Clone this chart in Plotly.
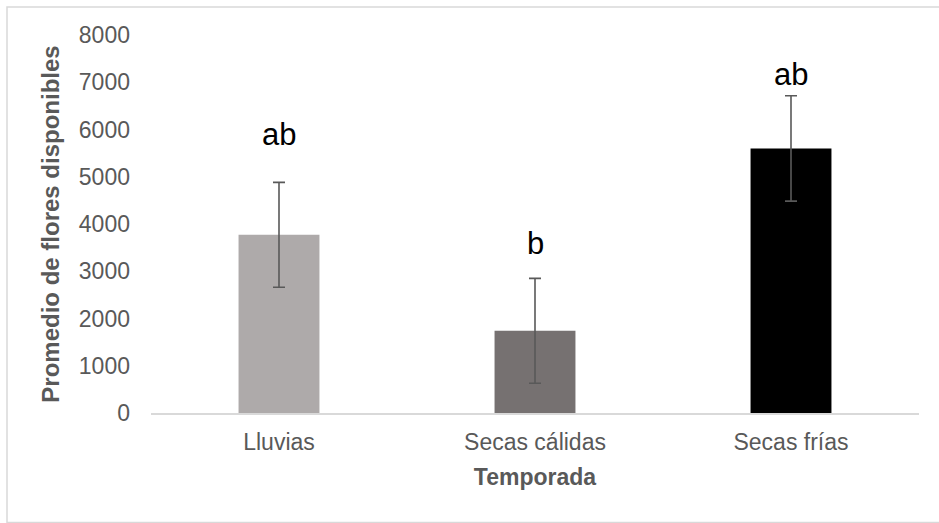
import plotly.graph_objects as go

categories = ["Lluvias", "Secas cálidas", "Secas frías"]
means = [3770, 1740, 5600]
errors = [1110, 1110, 1115]
letters = ["ab", "b", "ab"]
letter_y = [5890, 3580, 7160]
bar_colors = ["#AEAAAA", "#767171", "#000000"]
y_ticks = [0, 1000, 2000, 3000, 4000, 5000, 6000, 7000, 8000]

FONT = "Liberation Sans, Arial, sans-serif"

fig = go.Figure()
fig.add_trace(go.Bar(
    x=categories, y=means,
    marker=dict(color=bar_colors, line=dict(width=0)),
    error_y=dict(type="data", array=errors, visible=True,
                 color="#595959", thickness=1.6, width=6),
    showlegend=False, hoverinfo="x+y",
))

for c, t, yv in zip(categories, letters, letter_y):
    fig.add_annotation(x=c, y=yv, text=t, showarrow=False,
                       xanchor="center", yanchor="middle",
                       font=dict(family=FONT, size=31, color="#000000"))

fig.add_shape(type="rect", xref="paper", yref="paper",
              x0=-0.1875, x1=1.2, y0=-0.290, y1=1.0742,
              line=dict(color="#D9D9D9", width=1.5), fillcolor="rgba(0,0,0,0)",
              layer="below")

fig.update_layout(
    width=939, height=523,
    margin=dict(l=151, r=20, t=35, b=110, pad=0),
    paper_bgcolor="white", plot_bgcolor="white",
    bargap=0.684,
    font=dict(family=FONT, color="#595959"),
    xaxis=dict(
        showgrid=False, showline=True, linecolor="#D9D9D9", linewidth=1.5,
        ticks="", tickfont=dict(size=23, color="#595959"),
        ticklabelstandoff=8,
        title=dict(text="<b>Temporada</b>", font=dict(size=23, color="#595959"), standoff=15),
    ),
    yaxis=dict(
        range=[0, 8000], tickvals=y_ticks, showgrid=False, zeroline=False,
        showline=False, ticks="", tickfont=dict(size=23, color="#595959"),
        ticklabelstandoff=20,
        title=dict(text="<b>Promedio de flores disponibles</b>",
                   font=dict(size=24, color="#595959"), standoff=12),
    ),
)

fig.write_html("out.html", config={"displayModeBar": False},
               post_script="document.body.style.margin='0px';document.body.style.overflow='hidden';")
